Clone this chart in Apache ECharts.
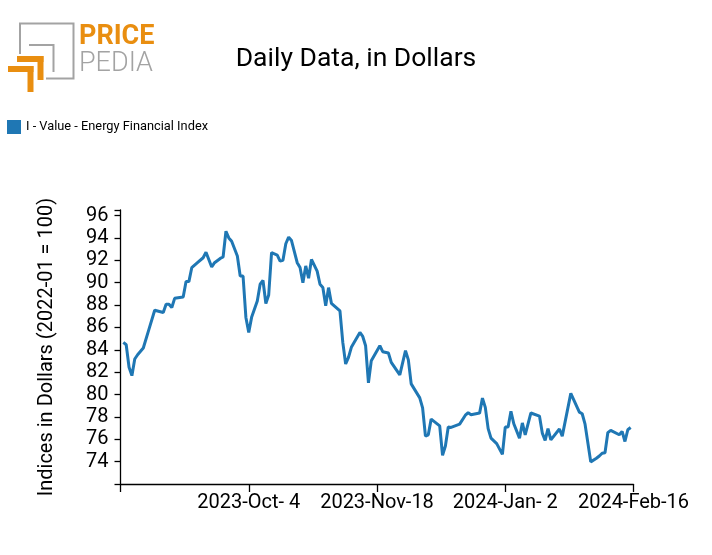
<!DOCTYPE html>
<html>
<head>
<meta charset="utf-8">
<script src="https://cdn.jsdelivr.net/npm/echarts@6/dist/echarts.min.js"></script>
<style>html,body{margin:0;padding:0;background:#fff;}#c{width:712px;height:555px;}</style>
</head>
<body>
<div id="c"></div>
<script>
// ---- data ----
const startDate = '2023-08-20';           // x axis origin (day 0)
const seriesName = 'I - Value - Energy Financial Index';
const dayOffsets = [1,2,3,4,5,6,8,10,12,15,16,17,18,19,22,23,24,25,27,29,30,32,33,35,36,37,38,39,41,42,43,44,45,46,48,49,50,51,52,53,55,56,57,58,59,60,62,63,64,65,66,67,69,70,71,72,73,74,77,78,79,80,81,84,85,86,87,88,91,92,94,95,98,100,101,102,105,106,107,108,109,112,113,114,115,116,119,121,122,123,126,127,128,129,130,132,134,135,136,137,138,140,141,142,144,147,148,149,150,151,154,155,158,161,162,163,165,167,168,169,170,171,172,175,176,177,178,179];
const values = [84.66,84.45,82.44,81.69,83.18,83.56,84.16,85.85,87.54,87.34,88.07,88.07,87.78,88.6,88.72,90.1,90.1,91.34,91.79,92.23,92.73,91.4,91.79,92.17,92.3,94.6,94.0,93.7,92.38,90.6,90.6,86.89,85.55,86.9,88.37,89.86,90.2,88.14,88.9,92.68,92.47,91.93,92.0,93.48,94.07,93.77,91.79,91.35,90.0,91.5,90.4,92.08,91.04,89.86,89.57,87.93,89.56,88.16,87.48,84.66,82.73,83.33,84.22,85.55,85.19,84.36,81.04,83.03,84.36,83.83,83.71,82.88,81.75,83.92,83.1,80.95,79.7,78.8,76.29,76.4,77.8,77.2,74.57,75.4,77.1,77.06,77.35,78.15,78.37,78.2,78.34,79.68,78.85,76.95,76.1,75.61,74.65,77.09,77.09,78.5,77.39,76.1,77.46,76.4,78.35,78.07,76.55,75.9,76.96,75.95,76.92,76.28,80.1,78.43,78.28,77.35,73.98,74.3,74.5,74.75,74.8,76.6,76.8,76.4,76.7,75.8,76.85,77.05];
const yTicks = [74,76,78,80,82,84,86,88,90,92,94,96];
const xTickDays = [45,90,135,180];
const monthNames = ['Jan','Feb','Mar','Apr','May','Jun','Jul','Aug','Sep','Oct','Nov','Dec'];

const t0 = Date.parse(startDate + 'T00:00:00Z');
function dayLabel(d){
  const dt = new Date(t0 + d*86400000);
  const day = dt.getUTCDate();
  return dt.getUTCFullYear() + '-' + monthNames[dt.getUTCMonth()] + '-' + (day < 10 ? ' ' + day : day);
}
const points = dayOffsets.map((d,i)=>[d, values[i]]);

const chart = echarts.init(document.getElementById('c'), null, {renderer:'canvas'});
const orange = '#e98e10', gray = '#a3a3a3';
chart.setOption({
  animation:false,
  backgroundColor:'#ffffff',
  title:{
    text:'Daily Data, in Dollars',
    left:356, top:46, textAlign:'center', padding:0,
    textStyle:{fontFamily:'Roboto', fontSize:26.5, fontWeight:'normal', color:'#000'}
  },
  legend:{
    left:7, top:120, itemWidth:14, itemHeight:14, itemGap:5, padding:0,
    icon:'rect',
    textStyle:{fontFamily:'Roboto', fontSize:12.8, color:'#000'},
    data:[seriesName]
  },
  graphic:[
    {type:'polyline', shape:{points:[[20,54],[20,23.5],[73.5,23.5],[73.5,78.5],[46,78.5]]}, style:{stroke:gray, lineWidth:2, fill:null}},
    {type:'polyline', shape:{points:[[29,45],[53.5,45],[53.5,72]]}, style:{stroke:gray, lineWidth:2, fill:null}},
    {type:'rect', shape:{x:17,y:56,width:26.5,height:6}, style:{fill:orange}},
    {type:'rect', shape:{x:37.5,y:56,width:6,height:24}, style:{fill:orange}},
    {type:'rect', shape:{x:8,y:66,width:25.5,height:6}, style:{fill:orange}},
    {type:'rect', shape:{x:27.5,y:66,width:6,height:26}, style:{fill:orange}},
    {type:'text', left:79, top:24, style:{text:'PRICE', fill:orange, font:'bold 27px Roboto'}},
    {type:'text', left:79, top:51, style:{text:'PEDIA', fill:gray, font:'300 27px Roboto'}}
  ],
  grid:{left:120.5, right:78.5, top:210, bottom:71, containLabel:false},
  xAxis:{
    type:'value', min:0, max:180, interval:45,
    axisLine:{show:true, onZero:false, lineStyle:{color:'#000', width:1.3}},
    axisTick:{show:true, length:8, lineStyle:{color:'#000', width:1.3}},
    splitLine:{show:false},
    axisLabel:{
      margin:9, fontFamily:'Roboto', fontSize:20, color:'#000',
      formatter:function(v){ return xTickDays.indexOf(v) >= 0 ? dayLabel(v) : ''; }
    }
  },
  yAxis:{
    type:'value', min:72, max:96.5, interval:2,
    name:'Indices in Dollars (2022-01 = 100)', nameLocation:'middle', nameGap:64,
    nameTextStyle:{fontFamily:'Roboto', fontSize:20, color:'#000'},
    axisLine:{show:true, lineStyle:{color:'#000', width:1.3}},
    axisTick:{show:true, length:6, lineStyle:{color:'#000', width:1.3}},
    splitLine:{show:false},
    axisLabel:{
      margin:12, fontFamily:'Roboto', fontSize:20, color:'#000',
      formatter:function(v){ return yTicks.indexOf(v) >= 0 ? String(v) : ''; }
    }
  },
  series:[{
    name:seriesName, type:'line', data:points, showSymbol:false, symbol:'none',
    lineStyle:{color:'#1f77b4', width:3}, itemStyle:{color:'#1f77b4'}
  }]
});
</script>
</body>
</html>
